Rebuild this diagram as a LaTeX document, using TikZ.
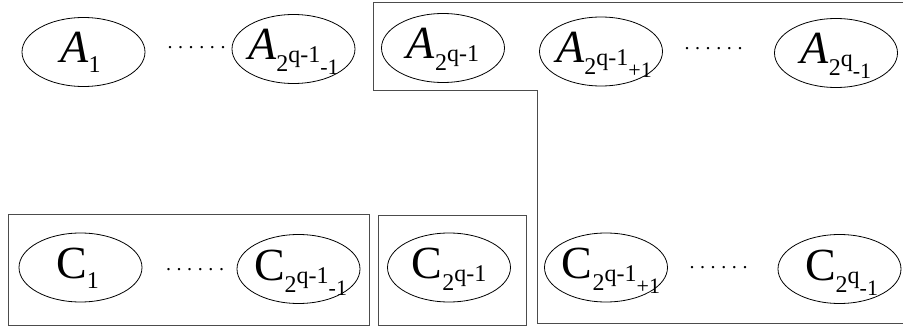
\documentclass[tikz,border=0pt]{standalone}
\usepackage{fontspec}
\setmainfont{Liberation Serif}
\usetikzlibrary{shapes.geometric}
\newcommand{\mainL}[1]{{\fontsize{46}{46}\selectfont\itshape #1}}
\newcommand{\mainU}[1]{{\fontsize{46}{46}\selectfont #1}}
\newcommand{\subL}[2]{\raisebox{#1}{\fontsize{24}{24}\selectfont #2}}
\newcommand{\ssubL}[2]{\raisebox{#1}{\fontsize{22}{22}\selectfont #2}}
\newcommand{\dotrow}{\fontsize{20}{20}\selectfont .\hspace{5.6pt}.\hspace{5.6pt}.\hspace{5.6pt}.\hspace{5.6pt}.\hspace{5.6pt}.}
\tikzset{
  oval/.style={ellipse, draw=black, line width=0.8pt, minimum width=123pt, minimum height=69pt, inner sep=0pt},
  lab/.style={inner sep=0pt, anchor=base},
  dotlab/.style={inner sep=0pt, anchor=base},
  boxline/.style={draw=black!70, line width=1pt}
}
\begin{document}
\begin{tikzpicture}[x=1pt, y=-1pt]
\useasboundingbox (0,0) rectangle (903,326);
% group frames
\draw[boxline] (8,215) rectangle (369,325);
\draw[boxline] (378,216) rectangle (526,325);
\draw[boxline] (903,3) -- (373,3) -- (373,91) -- (537,91) -- (537,323) -- (903,323);
% top row
\node[oval] (a1) at (83.5,52) {};
\node[oval] (a2) at (293.5,49) {};
\node[oval] (a3) at (443,48) {};
\node[oval] (a4) at (601,51.5) {};
\node[oval] (a5) at (836,53) {};
\node[lab] (a1t) at ([yshift=-11pt,xshift=-3pt]a1.center) {\mainL{A}\subL{-10pt}{1}};
\node[lab] (a2t) at ([yshift=-11pt]a2.center) {\mainL{A}\subL{-12pt}{2}\subL{-3pt}{q-1}\ssubL{-15pt}{-1}};
\node[lab] (a3t) at ([yshift=-11pt]a3.center) {\mainL{A}\subL{-12pt}{2}\subL{-3pt}{q-1}};
\node[lab] (a4t) at ([yshift=-11pt,xshift=3pt]a4.center) {\mainL{A}\subL{-12pt}{2}\subL{-3pt}{q-1}\ssubL{-15pt}{+1}};
\node[lab] (a5t) at ([yshift=-11pt]a5.center) {\mainL{A}\subL{-12pt}{2}\subL{-3pt}{q}\ssubL{-15pt}{-1}};
\node[dotlab] (d1) at (196.5,49) {\dotrow};
\node[dotlab] (d2) at (713.5,50) {\dotrow};
% bottom row
\node[oval] (c1) at (80.5,267.5) {};
\node[oval] (c2) at (298.5,269) {};
\node[oval] (c3) at (449,267.5) {};
\node[oval] (c4) at (606,267.5) {};
\node[oval] (c5) at (839.5,269) {};
\node[lab] (c1t) at ([yshift=-11pt,xshift=-3pt]c1.center) {\mainU{C}\subL{-10pt}{1}};
\node[lab] (c2t) at ([yshift=-11pt,xshift=2pt]c2.center) {\mainU{C}\subL{-12pt}{2}\subL{-3pt}{q-1}\ssubL{-15pt}{-1}};
\node[lab] (c3t) at ([yshift=-11pt]c3.center) {\mainU{C}\subL{-12pt}{2}\subL{-3pt}{q-1}};
\node[lab] (c4t) at ([yshift=-11pt,xshift=5pt]c4.center) {\mainU{C}\subL{-12pt}{2}\subL{-3pt}{q-1}\ssubL{-15pt}{+1}};
\node[lab] (c5t) at ([yshift=-11pt,xshift=2pt]c5.center) {\mainU{C}\subL{-12pt}{2}\subL{-3pt}{q}\ssubL{-15pt}{-1}};
\node[dotlab] (d3) at (195,270) {\dotrow};
\node[dotlab] (d4) at (718.5,268) {\dotrow};
\end{tikzpicture}
\end{document}
